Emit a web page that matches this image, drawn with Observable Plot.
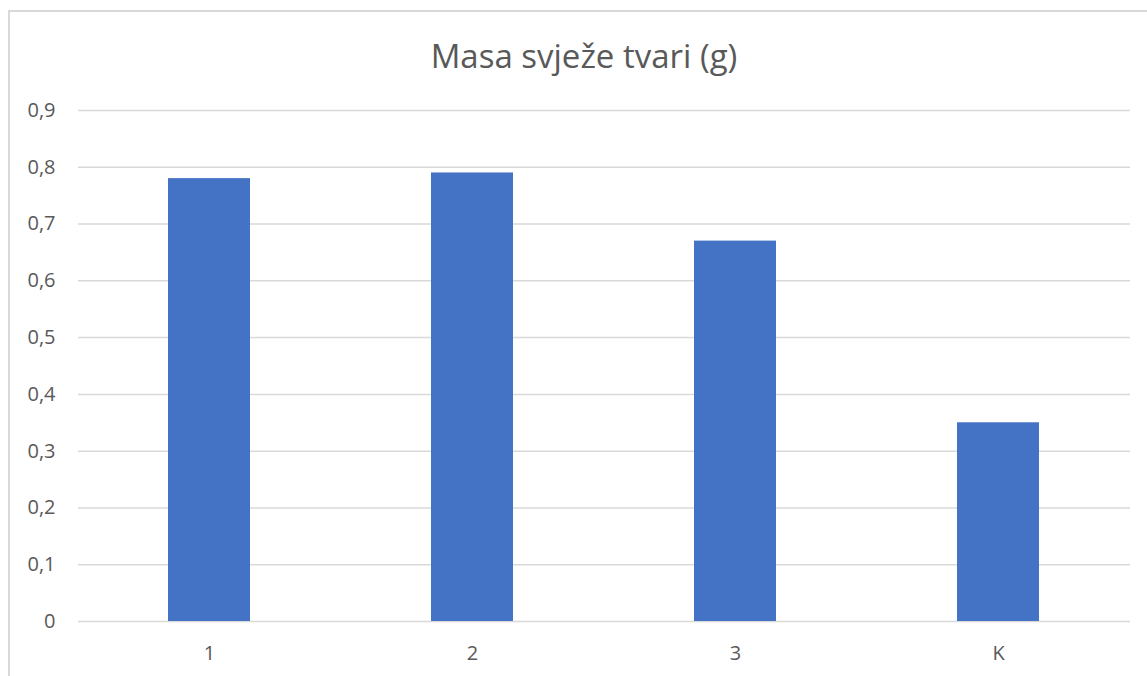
<!DOCTYPE html>
<html>
<head>
<meta charset="utf-8">
<script src="https://cdn.jsdelivr.net/npm/d3@7"></script>
<script src="https://cdn.jsdelivr.net/npm/@observablehq/plot@0.6"></script>
<style>
  html, body { margin: 0; padding: 0; background: #fff; }
  #wrap { position: relative; width: 1147px; height: 676px; overflow: hidden; background: #fff; }
  #frame { position: absolute; left: 8px; top: 10px; width: 1200px; height: 700px; border-top: 2px solid #d9d9d9; border-left: 2px solid #d9d9d9; box-sizing: border-box; }
  #title { position: absolute; left: 0; top: 34px; width: 1168px; text-align: center; font-family: "Open Sans", sans-serif; font-size: 33px; color: #595959; line-height: 44px; }
  #chart { position: absolute; left: 0; top: 0; }
</style>
</head>
<body>
<div id="wrap">
  <div id="frame"></div>
  <div id="title">Masa svježe tvari (g)</div>
  <div id="chart"></div>
</div>
<script>
const categories = ["1", "2", "3", "K"];
const values = [0.78, 0.79, 0.67, 0.35];
const yTicks = [0, 0.1, 0.2, 0.3, 0.4, 0.5, 0.6, 0.7, 0.8, 0.9];
const yTickLabels = ["0", "0,1", "0,2", "0,3", "0,4", "0,5", "0,6", "0,7", "0,8", "0,9"];

const data = categories.map((c, i) => ({category: c, value: values[i]}));

const plot = Plot.plot({
  width: 1147,
  height: 676,
  marginLeft: 78,
  marginRight: 17,
  marginTop: 110,
  marginBottom: 55,
  style: { fontFamily: "'Open Sans', sans-serif", fontSize: "20px", color: "#595959", background: "transparent" },
  x: { domain: categories, paddingInner: 0.687, paddingOuter: 0.3435, label: null },
  y: { domain: [0, 0.9], label: null },
  marks: [
    Plot.ruleY(yTicks, { stroke: "#d9d9d9", strokeWidth: 1.5 }),
    Plot.barY(data, { x: "category", y: "value", fill: "#4472C4" }),
    Plot.axisY({ ticks: yTicks, tickFormat: (d, i) => yTickLabels[i], tickSize: 0, tickPadding: 23, fontSize: 20 }),
    Plot.axisX({ tickSize: 0, tickPadding: 24, fontSize: 20 })
  ]
});
document.getElementById("chart").appendChild(plot);
</script>
</body>
</html>
